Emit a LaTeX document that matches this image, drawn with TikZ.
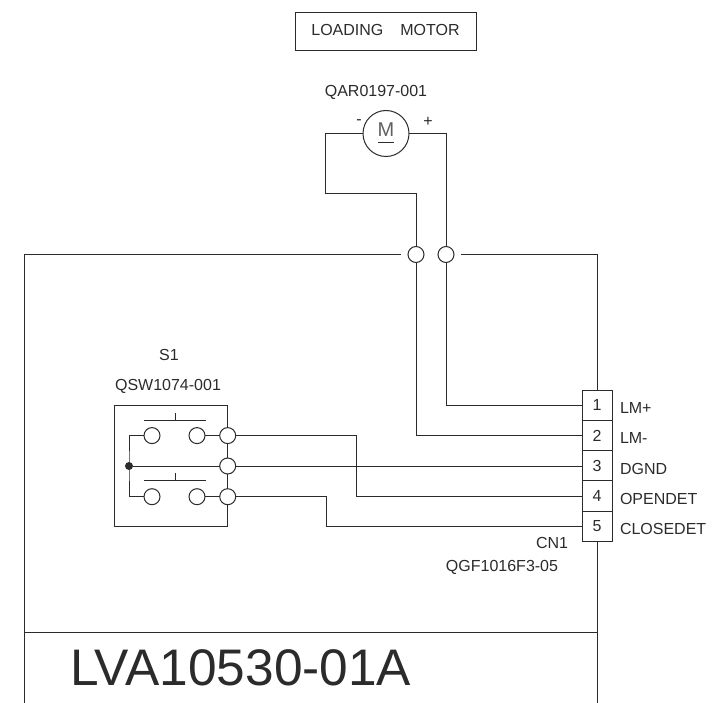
\documentclass[tikz,border=0pt]{standalone}
\usepackage{fontspec}
\setmainfont{Liberation Sans}
\definecolor{ink}{HTML}{2B2B2B}
\tikzset{
  wire/.style={draw=ink,line width=1pt},
  term/.style={circle,draw=ink,line width=1pt,fill=white,minimum size=16pt,inner sep=0pt,outer sep=0pt},
  lab/.style={inner sep=0pt,outer sep=0pt,text=ink,font=\fontsize{16}{18}\selectfont},
  pin/.style={draw=ink,line width=1pt,minimum width=30pt,minimum height=30.2pt,inner sep=0pt,outer sep=0pt,text=ink,font=\fontsize{16}{18}\selectfont},
  pinlab/.style={lab,anchor=west},
}
\begin{document}
\begin{tikzpicture}[x=1pt,y=-1pt]
\useasboundingbox (0,0) rectangle (712,703);
% title box
\node[draw=ink,line width=1pt,minimum width=181pt,minimum height=38pt,inner sep=0pt,text=ink,font=\fontsize{16}{18}\selectfont] (title) at (385.5,32) {};
\node[lab] (titletext) at (385.5,29.5) {LOADING\hspace{17pt}MOTOR};
\node[lab] (qar) at (376,92) {QAR0197-001};
% motor
\node[circle,draw=ink,line width=1pt,minimum size=46pt,inner sep=0pt,outer sep=0pt] (motor) at (386,133.5) {};
\node[lab,font=\fontsize{20}{22}\selectfont,text=ink!75] (mletter) at (386,129.5) {M};
\coordinate (mu1) at (378,142.5); \coordinate (mu2) at (394,142.5);
\draw[wire,line width=.9pt] (mu1) -- (mu2);
\node[lab] (mminus) at (359,122) {-};
\node[lab] (mplus) at (428,121.5) {+};
% frame terminals
\node[term] (ta) at (416,254.5) {};
\node[term] (tb) at (446,254.5) {};
% connector
\node[pin] (p1) at (597,405.4) {1};
\node[pin] (p2) at (597,435.6) {2};
\node[pin] (p3) at (597,465.8) {3};
\node[pin] (p4) at (597,496) {4};
\node[pin] (p5) at (597,526.2) {5};
\node[pinlab] (l1) at (620,407.5) {LM+};
\node[pinlab] (l2) at (620,438) {LM-};
\node[pinlab] (l3) at (620,468.5) {DGND};
\node[pinlab] (l4) at (620,498.5) {OPENDET};
\node[pinlab] (l5) at (620,528.5) {CLOSEDET};
\node[lab] (cn) at (552,542.5) {CN1};
\node[lab] (qgf) at (502,567.5) {QGF1016F3-05};
% frame
\coordinate (fl) at (24,254.5);
\coordinate (fr) at (597,254.5);
\coordinate (flb) at (24,703);
\coordinate (frb) at (597,703);
\coordinate (fsl) at (24,632);
\coordinate (fsr) at (597,632);
\coordinate (gapl) at (400.5,254.5);
\coordinate (gapr) at (461,254.5);
\draw[wire] (gapl) -- (fl) -- (flb);
\draw[wire] (gapr) -- (fr) -- (p1.north);
\draw[wire] (p5.south) -- (frb);
\draw[wire] (fsl) -- (fsr);
\node[inner sep=0pt,text=ink,font=\fontsize{51.4}{56}\selectfont,anchor=west] (model) at (70,668) {LVA10530-01A};
% motor wiring
\draw[wire] (motor.west) -- (325.5,133.5) -- (325.5,194) -- (416,194) -- (ta.north);
\draw[wire] (motor.east) -- (446,133.5) -- (tb.north);
\draw[wire] (tb.south) |- (p1.west);
\draw[wire] (ta.south) |- (p2.west);
% switch
\node[lab] (s1) at (169,354.5) {S1};
\node[lab] (qsw) at (168,386.5) {QSW1074-001};
\node[draw=ink,line width=1pt,minimum width=113.5pt,minimum height=121pt,inner sep=0pt,outer sep=0pt] (sw) at (171,465.5) {};
\node[term] (c1) at (152,435.6) {};
\node[term] (c2) at (197,435.6) {};
\node[term] (c3) at (227.7,435.6) {};
\node[term] (c4) at (227.7,466) {};
\node[term] (c5) at (152,496.7) {};
\node[term] (c6) at (197,496.7) {};
\node[term] (c7) at (227.7,496.7) {};
\node[circle,fill=ink,minimum size=8pt,inner sep=0pt,outer sep=0pt] (dot) at (129,466) {};
\draw[wire] (c1.west) -| (dot.center) |- (c5.west);
\draw[wire] (dot) -- (c4.west);
\draw[wire] (c2) -- (c3);
\draw[wire] (c6) -- (c7);
\coordinate (b1l) at (144,420.7); \coordinate (b1r) at (205.7,420.7);
\coordinate (b1m) at (175,420.7); \coordinate (b1t) at (175,413);
\coordinate (b2l) at (144,480.7); \coordinate (b2r) at (205.7,480.7);
\coordinate (b2m) at (175,480.7); \coordinate (b2t) at (175,473);
\draw[wire,line width=.9pt] (b1l) -- (b1r) (b1m) -- (b1t);
\draw[wire,line width=.9pt] (b2l) -- (b2r) (b2m) -- (b2t);
% outputs
\draw[wire] (c4.east) -- (p3.west |- c4.east);
\draw[wire] (c3.east) -- (356,435.6) |- (p4.west);
\draw[wire] (c7.east) -- (326,496.7) |- (p5.west);
\end{tikzpicture}
\end{document}
